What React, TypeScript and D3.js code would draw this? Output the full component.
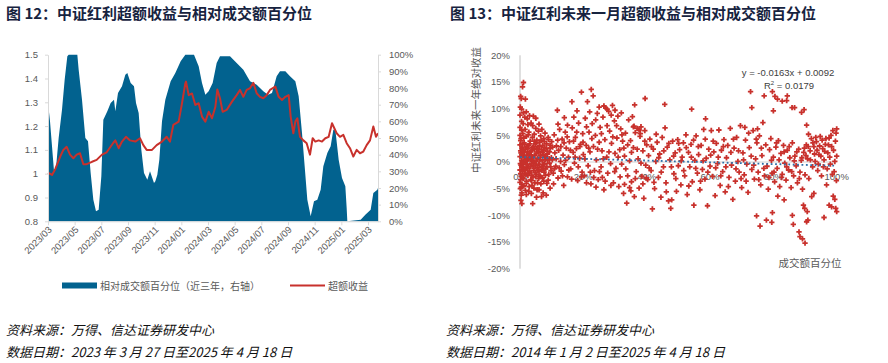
import React, { useRef, useEffect } from "react";
import * as d3 from "d3";

// left chart: trading-day index vs values
const monthLabels = ["2023/03", "2023/05", "2023/07", "2023/09", "2023/11", "2024/01", "2024/03", "2024/05", "2024/07", "2024/09", "2024/11", "2025/01", "2025/03"];
const leftTicks = ["1.5", "1.4", "1.3", "1.2", "1.1", "1", "0.9", "0.8"];
const rightTicks = ["100%", "90%", "80%", "70%", "60%", "50%", "40%", "30%", "20%", "10%", "0%"];

// 相对成交额百分位 (right axis, %)
const areaIdx = [0, 3, 6, 9, 12, 16, 21, 25, 29, 31, 44, 46, 51, 56, 60, 64, 68, 72, 76, 80, 83, 89, 94, 99, 101, 105, 111, 116, 119, 124, 129, 132, 136, 140, 144, 149, 153, 159, 161, 164, 167, 171, 176, 184, 191, 199, 206, 219, 226, 231, 236, 241, 247, 253, 258, 273, 283, 293, 303, 313, 323, 330, 336, 343, 348, 356, 363, 371, 376, 381, 385, 389, 394, 399, 404, 409, 413, 419, 424, 428, 431, 436, 441, 446, 448, 449, 469, 476, 484, 488, 494, 495];
const areaPct = [71, 60, 45, 30, 32, 50, 67, 85, 99, 100, 100, 91, 73, 50, 48, 29, 13, 6, 7, 27, 61, 66, 71, 73, 66, 77, 81, 88, 89, 83, 81, 71, 65, 43, 29, 25, 30, 23, 24, 28, 37, 60, 73, 84, 89, 96, 100, 100, 93, 83, 76, 78, 83, 95, 99, 99, 95, 91, 84, 82, 78, 76, 77, 87, 90, 90, 87, 84, 75, 53, 33, 13, 3, 12, 13, 19, 33, 41, 45, 55, 55, 37, 26, 21, 8, 0, 1, 4, 7, 17, 19, 20];

// 超额收益 (left axis)
const lineIdx = [0, 6, 11, 18, 23, 28, 33, 38, 43, 48, 53, 58, 66, 73, 81, 88, 98, 101, 106, 111, 117, 123, 131, 138, 143, 148, 156, 163, 171, 178, 183, 188, 196, 201, 206, 207, 211, 216, 221, 226, 231, 236, 241, 246, 251, 254, 258, 262, 268, 276, 283, 288, 293, 298, 303, 308, 313, 318, 323, 328, 333, 341, 346, 351, 356, 361, 364, 368, 371, 374, 378, 383, 388, 393, 397, 401, 406, 411, 416, 421, 426, 433, 438, 443, 448, 453, 458, 463, 468, 473, 478, 483, 488, 492, 495];
const lineVal = [1.004, 0.995, 1.02, 1.07, 1.10, 1.113, 1.08, 1.065, 1.08, 1.086, 1.04, 1.04, 1.05, 1.058, 1.08, 1.09, 1.13, 1.14, 1.107, 1.135, 1.155, 1.14, 1.135, 1.149, 1.12, 1.10, 1.10, 1.12, 1.135, 1.155, 1.135, 1.205, 1.219, 1.296, 1.38, 1.387, 1.33, 1.337, 1.289, 1.296, 1.24, 1.219, 1.26, 1.233, 1.28, 1.354, 1.317, 1.26, 1.268, 1.303, 1.33, 1.352, 1.323, 1.352, 1.359, 1.382, 1.338, 1.323, 1.317, 1.33, 1.352, 1.366, 1.323, 1.31, 1.323, 1.33, 1.24, 1.17, 1.219, 1.233, 1.155, 1.14, 1.128, 1.08, 1.149, 1.135, 1.14, 1.135, 1.149, 1.155, 1.212, 1.17, 1.155, 1.163, 1.128, 1.107, 1.072, 1.10, 1.086, 1.093, 1.12, 1.14, 1.198, 1.155, 1.17];

// right chart: [成交额百分位 %, 未来一年绝对收益 %]
const scatter: [number, number][] = [
  [0,5],[0,3.2],[0,1],[0,-1.5],[0,-3.8],[0,6.5],[0,8.8],[0.1,-5],[0.2,2.1],[0.3,-0.6],[0.3,4.4],[0.4,-2.7],[0.5,7.6],[0.5,0.3],[0.6,-4.2],[0.7,2.8],[0.8,-1.8],[0.9,5.3],[1,1.2],[1,-3.1],[1.1,9.2],[1.2,-0.4],[1.3,3.6],[1.4,-2.2],[1.5,0.8],[1.6,6.1],[1.7,-5.3],[1.8,2.4],[1.9,-1],[2,4.8],[2.1,-3.6],[2.2,0.2],[2.3,8.1],[2.4,1.9],[2.5,-2.5],[2.6,3.1],[2.7,-0.8],[2.8,5.6],[2.9,-4.6],[3,1.5],[0.2,12.3],[0.4,11.9],[1.7,11.8],[0.8,14.1],[1.1,14.9],[0.4,-6.2],[0.6,-7.8],[0.1,10.3],[0.3,-7.2],
  [0.1,-0.3],[0.2,-2.2],[0.2,4],[0.3,1.7],[0.4,-4.7],[0.5,6],[0.6,2.5],[0.7,-1],[0.8,3.4],[0.9,-2.9],[1,0],[1.2,4.5],[1.4,1.8],[1.6,-1.5],[1.8,0.1],[2,-4],[2.2,2.9],[2.4,-1.2],[2.6,5.1],[2.8,0.6],[3,-2.1],[3.3,1.9],[3.6,-3.5],[3.9,0.8],[4.2,-0.6],[4.5,2.3],[4.8,-2],[5.1,3.6],[5.5,-1.1],[6,-1.8],[6.5,1.3],[7,-0.9],[7.5,2.2],[8,0.5],[8.6,1.5],[9.3,-0.2],
  [0.5,-0.9],[0.7,1.5],[0.9,-0.1],[1.1,2.2],[1.3,-1.3],[1.5,3.3],[1.7,0.5],[1.9,-2.3],[2.1,1.3],[2.3,-0.4],[2.5,2.6],[2.7,0.9],[2.9,-1.7],[3.1,3.4],[3.3,-0.9],[3.5,1.1],[3.7,-2.5],[3.9,2.7],[4.1,0.3],[4.3,-1.6],[4.5,3.9],[4.7,1.3],[4.9,-2.8],[5.1,0.1],[5.3,2.5],[5.5,-3.9],[5.7,1.9],[5.9,-0.4],[6.1,3],[6.3,0.4],[6.5,-2.7],[6.7,4.1],[6.9,-1.5],[7.1,1.8],[7.3,-0.5],[7.5,-3.6],[7.7,3.8],[7.9,0.9],[8.1,-1.3],[8.3,2.6],[8.5,-4],[8.7,0.3],[8.9,4.6],[9.1,-2.3],[9.3,1.9],[9.5,3.1],[9.7,-0.9],[9.9,0.8],
  [0.2,-3.3],[0.6,-5.8],[1.2,-4.5],[2,-6.1],[2.8,-5.5],[3.6,-5.9],[4.4,-4.9],[5.2,-6.6],[6,-5.2],[6.8,-6.5],[1,7.2],[2,9.4],[3,8.7],[4,6.8],[5,8.2],[6,7.1],[2.5,7],[1.5,8.4],[0.5,9.9],
  [3.1,-1.9],[3.2,3.9],[3.3,0.5],[3.4,-3.3],[3.5,7.3],[3.6,2.2],[3.7,-0.2],[3.8,-4.4],[3.9,4.6],[4,1],[4,-7.8],[4.1,-2.8],[4.2,8.6],[4.3,2.9],[4.4,-1.2],[4.5,5.2],[4.6,0],[4.7,-3.9],[4.8,3.4],[4.9,-0.7],[5,6.3],[5.1,1.6],[5.2,-2.3],[5.3,4.1],[5.4,-5.2],[5.5,0.7],[5.6,2.6],[5.7,-1.5],[5.8,5.8],[5.9,-3.1],
  [6,1.9],[6.1,-0.5],[6.2,3.7],[6.3,-2.6],[6.4,0.9],[6.5,4.9],[6.6,-4.1],[6.7,2.3],[6.8,-1.1],[6.9,6.1],[7,0.2],[7.1,-3],[7.2,3.1],[7.3,-5.8],[7.4,1.4],[7.5,4.4],[7.6,-1.9],[7.7,2.7],[7.8,-0.3],[7.9,5.4],[8,-2.5],[8.1,1.1],[8.3,-6.2],[8.4,3.4],[8.5,-0.9],[8.7,2],[8.9,-3.4],[9,4.2],[9.2,0.6],[9.5,-4.9],[9.6,2.6],[9.8,-1.6],[10,3.8],
  [10.2,0.4],[10.5,-2.1],[10.8,5.1],[11,1.7],[11.3,-0.8],[11.5,3],[11.8,9.7],[12,-3],[12.2,2.2],[12.5,6.1],[12.8,0.1],[13,-1.7],[13.3,4.3],[13.6,1.3],[14,-0.5],[14.3,5.6],[14.6,2.6],[15,-2.8],[15.3,0.9],[15.6,3.8],[16,-1.3],[16.4,11.3],[16.5,6.4],[16.8,1.8],[17.2,-0.2],[17.5,4.6],[17.8,2.5],[18.2,-3.5],[18.5,7.3],[18.8,0.7],[19.1,3.3],[19.4,13.1],[19.6,-1.9],[19.8,5.3],[20,1.4],[10.6,-4.1],[13.8,-4.4],[17,8.4],[18,9.6],
  [10.3,2.8],[10.9,-1.3],[11.4,0.6],[11.9,4.1],[12.4,-1.1],[12.9,2.9],[13.4,-2.6],[13.9,3.6],[14.4,0.3],[14.9,4.7],[15.4,-1.5],[15.9,2.2],[16.3,-3.2],[16.9,3.9],[17.4,0.9],[17.9,5.6],[18.4,-0.9],[18.9,2.9],[19.4,-2.8],[19.9,3.7],
  [20.3,-2.6],[20.6,8.2],[20.9,3.1],[21.3,11.3],[21.5,-0.7],[21.8,5.6],[22.1,1.9],[22.5,13.6],[22.4,-4.1],[22.8,7.2],[23.1,12.4],[23.2,2.9],[23.5,-1.6],[23.8,5],[24.1,0.4],[24.4,9.1],[24.7,-3.3],[25,3.7],[25.3,6.5],[25.6,-0.9],[25.9,2.1],[26.2,8.4],[26.5,-5.2],[26.8,4.2],[27.1,10.1],[27.4,0.9],[27.7,-2.1],[28,9.5],[28.3,5.8],[28.6,-0.3],[28.9,3.5],[29.2,10.6],[29.5,-3.9],[29.8,7.7],[30,1.6],[27.5,9.9],[28.8,8.8],[26,-2.9],[24,-4.7],[21,-3.9],
  [20.5,0.6],[21,6.6],[21.7,2.6],[22.2,-1.9],[22.7,4.4],[23.3,-2.9],[23.9,7.9],[24.5,2.4],[25.1,-1.8],[25.7,5.3],[26.3,0.6],[26.9,-3.6],[27.5,6.8],[28.1,1.9],[28.7,-4.4],[29.3,4.7],[29.9,-1.8],
  [30.3,-1.2],[30.6,4.5],[30.9,8.6],[31.2,-4.6],[31.5,2.3],[31.8,6.2],[32.1,-0.4],[32.4,3.9],[32.7,-5.9],[33,1.1],[33.3,5.4],[33.7,-7.7],[34,-2.6],[34.3,7.9],[34.6,0.2],[34.9,4],[35.2,-3.7],[35.5,8.5],[35.8,2.7],[36.2,10.7],[36.1,-6.5],[36.4,5.5],[36.7,-1.8],[37,6.3],[37.3,0.6],[37.6,-4.9],[37.9,4.8],[38.2,6.6],[38.5,-2.7],[38.8,2.1],[39.1,-6.8],[39.5,11.9],[39.4,5.9],[39.7,-0.6],[40,3.2],[33,-4.2],[35,-5.4],
  [30.5,6.8],[31,0.9],[31.6,-2.8],[32.2,5.1],[32.8,2.6],[33.4,-1.3],[34,3.2],[34.6,-4.8],[35.2,1.8],[35.8,6.6],[36.4,-3.1],[37,2.4],[37.6,6],[38.2,-0.2],[38.8,-4.1],[39.4,3.9],[39.9,-3],
  [12,7.1],[14,8.3],[15,6.9],[22,9.4],[25,10.3],[26.5,10.5],[30,9.7],[32,9.2],[38,5.3],[36,6.7],
  [40.3,-3.3],[40.6,1.2],[41,4.3],[41.4,-1.6],[41.8,-8.8],[42.1,2.4],[42.5,-5],[42.9,0.1],[43.3,3.7],[43.7,-2.9],[44.1,1.5],[44.5,-6.6],[44.9,4.6],[45.3,-0.9],[45.7,10.8],[45.8,6.4],[46.1,-3.9],[46.5,2.8],[46.9,-7.3],[47.3,0.4],[47.6,-8.7],[47.9,-7.1],[48.2,3.9],[48.6,-2.2],[49,1.7],[49.4,-5.5],[49.8,4.2],[50,-0.7],
  [40.8,-1.1],[41.5,2.9],[42.3,-3.8],[43,5.2],[43.8,0.8],[44.6,-1.9],[45.4,2.1],[46.2,-5.6],[47,3.5],[47.8,-0.9],[48.5,1.1],[49.2,-3.1],
  [50.4,2.3],[50.8,-4.3],[51.2,0.9],[51.6,3.6],[52,-2.6],[52.4,5.1],[52.8,-6.1],[53.2,1.8],[53.6,-0.9],[54,3.3],[54.2,9.9],[54.4,-3.7],[54.9,-8.1],[55.2,0.3],[55.6,4.9],[56,-2.1],[56.4,1.4],[56.8,-5.2],[57.2,3.1],[57.6,-1.4],[58,6.1],[58.6,8.1],[58.4,-3.2],[58.8,0.7],[59.2,-8.2],[59.6,2.4],[60,-0.8],
  [50.1,3.5],[50.9,0.2],[51.7,-1.6],[52.5,2.7],[53.3,-4.5],[54.1,0.9],[54.8,4.1],[55.5,-1.2],[56.3,2.9],[57,-3.6],[57.8,0.2],[58.5,4.3],[59.3,-1.9],
  [60.4,5.9],[60.8,-2.7],[61.2,1.9],[61.6,-6.3],[62,3.5],[62.4,-0.3],[62.8,6],[63.2,-4.4],[63.6,2.2],[64,-1.8],[64.4,4.2],[64.8,-5.6],[65.2,0.8],[65.6,3.1],[66,-2.9],[66.4,6.3],[66.8,-0.6],[67.2,-7],[67.6,2.6],[68,-3.6],[68.4,4.6],[68.8,0.1],[69.2,-1.9],[69.6,6.8],[70,-4.8],
  [60.2,1.3],[61,3.9],[61.8,-1.1],[62.6,0.9],[63.4,-2.6],[64.2,2.9],[65,-0.9],[65.8,-4.6],[66.6,1.8],[67.4,4.3],[68.2,-1.3],[69,2.1],[69.8,-3.1],
  [70.4,1.7],[70.8,-2.4],[71.2,4.1],[71.6,-0.4],[72,-5.7],[72.4,2.7],[72.8,13.2],[73.2,10.2],[73.2,-1.4],[73.6,5.9],[74,-3.2],[74.4,0.6],[74.7,-10.1],[74.8,3.6],[75.2,-1.9],[75.8,-12],[75.6,4.9],[76,-4.3],[76.4,1.2],[76.7,7.4],[77.1,12.4],[77.2,-2.6],[77.8,-10.9],[77.6,3.2],[78,-0.8],[78.4,-5.1],[78.8,2.3],[79.2,4.4],[79.5,-11.3],[79.7,13.2],[79.7,-9.5],[79.6,-2.1],[80,9.6],[80,0.9],
  [70.6,0.4],[71.4,-3.6],[72.2,5.4],[73,1.1],[73.8,-0.6],[74.6,4.3],[75.4,-3.3],[76.2,2.6],[77,-1.2],[75,6.2],[71,6.5],[78.6,-2.9],[79.4,0.3],
  [80.5,12.3],[80.4,-3.7],[80.8,2.8],[81.3,11.8],[81.2,-1.2],[81.4,-6.4],[81.6,4],[82,-4.6],[82.4,1.6],[82.8,11.4],[82.8,-2.3],[83.2,3.1],[83.4,-7.1],[83.6,-0.2],[84,-3.4],[84.2,11.5],[84.4,12.4],[84.4,2.2],[84.8,-1.5],[85.2,0.8],[85.6,-4.8],[85.9,10.2],[86,-10],[86.3,-11.7],[86,3.6],[86.4,-2.6],[86.7,10.2],[86.8,1.1],[87.2,-0.7],[87.6,-3.9],[88,2.4],[88.1,-13.1],[88.4,-14],[88.4,-1.9],[88.9,9.3],[88.8,0.3],[89.2,-14.4],[89.2,-5.1],[89.5,-8.1],[89.6,1.8],[89.7,9.8],[89.9,-8.7],[90,-15.2],[90,-2.4],
  [80.2,-1.9],[81,3.6],[81.8,0.4],[82.6,-2.9],[83.4,1.9],[84.2,-0.9],[85,2.9],[85.8,-1.8],[86.6,0.2],[87.4,1.9],[88.2,-3.1],[89,0.8],[89.8,2.6],
  [90.5,6.9],[90.5,-11.2],[90.4,3.2],[90.7,-9.3],[90.9,-10.9],[90.8,0.6],[91.1,5.2],[91.2,-3.1],[91.6,2.1],[92,4.4],[92.1,-6.5],[92.4,-0.9],[92.8,-5.9],[92.8,2.9],[93.2,0.1],[93.6,3.8],[94,-1.6],[94.4,1.4],[94.8,4.8],[95.2,-2.6],[95.6,2.5],[96,-10.4],[96,0.4],[96.4,3.3],[96.8,-4.3],[97.2,1.7],[97.6,-8.1],[97.6,4.5],[98,-0.4],[98.4,-8.4],[98.4,2.9],[98.9,-6.4],[98.8,5.9],[99.2,-1.8],[99.4,-7],[99.6,3.9],[99.7,-8.7],[100,-9.3],[100,1.1],[100,6.2],[99.9,-3.5],
  [90.3,1.2],[91,2.9],[91.7,0.4],[92.5,3.6],[93,1.5],[93.4,4.6],[93.8,2.2],[94.2,-0.4],[94.6,3],[95,1.1],[95.4,4.1],[95.8,-0.9],[96.2,2],[96.6,4.4],[97,-1.3],[97.4,3.2],[97.8,0.9],[98.2,5],[98.6,-2.3],[99,2.2],[99.4,0.1],[99.8,5.4],
];
const trendCoef = [-0.0163, 0.0092]; // slope, intercept
const scatterYTicks = [0.2, 0.15, 0.1, 0.05, 0, -0.05, -0.1, -0.15, -0.2];
const scatterXTicks = [0, 0.2, 0.4, 0.6, 0.8, 1];

const FONT = "'Liberation Sans', Arial, 'Noto Sans CJK SC', sans-serif";
const CJK = "'Noto Sans CJK SC', sans-serif";
const BLUE = "#02628f";
const RED = "#c8312c";
const AXIS = "#d9d9d9";
const LABEL = "#595959";

export default function App() {
  const svgRef = useRef<SVGSVGElement>(null);

  useEffect(() => {
    const svg = d3.select(svgRef.current);
    svg.selectAll("*").remove();

    // titles
    svg.append("text").attr("x", 6).attr("y", 19).text("图 12：中证红利超额收益与相对成交额百分位")
      .attr("font-family", CJK).attr("font-weight", 700).attr("font-size", 15).attr("fill", "#17233f");
    svg.append("text").attr("x", 450).attr("y", 19).text("图 13：中证红利未来一月超额收益与相对成交额百分位")
      .attr("font-family", CJK).attr("font-weight", 700).attr("font-size", 15).attr("fill", "#17233f");

    // ---------- left chart ----------
    const x = d3.scaleLinear().domain([0, 495]).range([48, 378]);
    const yL = d3.scaleLinear().domain([0.8, 1.5]).range([221.3, 54.7]);
    const yR = d3.scaleLinear().domain([0, 100]).range([221.3, 54.7]);

    const area = d3.area<number>()
      .x((d, i) => x(areaIdx[i]))
      .y0(yR(0))
      .y1(d => yR(d));
    svg.append("path").attr("d", area(areaPct)).attr("fill", BLUE);

    const line = d3.line<number>()
      .x((d, i) => x(lineIdx[i]))
      .y(d => yL(d));
    svg.append("path").attr("d", line(lineVal)).attr("fill", "none")
      .attr("stroke", RED).attr("stroke-width", 2).attr("stroke-linejoin", "round");

    const styleAxis = (g: any) => {
      g.select(".domain").attr("stroke", AXIS);
      g.selectAll(".tick line").attr("stroke", AXIS);
      g.selectAll("text").attr("fill", LABEL).attr("font-family", FONT).attr("font-size", 9.5);
    };

    svg.append("g").attr("transform", "translate(48,0)")
      .call(d3.axisLeft(yL).tickValues(leftTicks.map(Number)).tickFormat((d, i) => leftTicks[i]).tickSize(3).tickSizeOuter(0).tickPadding(7))
      .call(styleAxis);
    svg.append("g").attr("transform", "translate(378,0)")
      .call(d3.axisRight(yR).tickValues(rightTicks.map(t => parseFloat(t))).tickFormat((d, i) => rightTicks[i]).tickSize(3).tickSizeOuter(0).tickPadding(8))
      .call(styleAxis);
    svg.append("g").attr("transform", "translate(0,221.3)")
      .call(d3.axisBottom(x).tickValues(monthLabels.map((d, i) => i * 40)).tickFormat((d, i) => monthLabels[i]).tickSize(4).tickSizeOuter(0))
      .call(styleAxis)
      .call(g => g.selectAll("text")
        .attr("text-anchor", "end").attr("x", 0).attr("y", 0).attr("dy", 0)
        .attr("transform", "translate(4,9) rotate(-45)"));

    // legend
    svg.append("rect").attr("x", 62).attr("y", 282.5).attr("width", 35).attr("height", 6).attr("fill", BLUE);
    svg.append("text").attr("x", 100).attr("y", 289.5).text("相对成交额百分位（近三年，右轴）")
      .attr("font-family", CJK).attr("font-size", 10).attr("fill", LABEL);
    svg.append("line").attr("x1", 290).attr("x2", 325).attr("y1", 285.5).attr("y2", 285.5)
      .attr("stroke", RED).attr("stroke-width", 2);
    svg.append("text").attr("x", 328).attr("y", 289.5).text("超额收益")
      .attr("font-family", CJK).attr("font-size", 10).attr("fill", LABEL);

    // ---------- right chart ----------
    const sx = d3.scaleLinear().domain([0, 1]).range([520, 836.7]);
    const sy = d3.scaleLinear().domain([-0.2, 0.2]).range([268.7, 55.3]);

    svg.append("line").attr("x1", sx(0)).attr("x2", sx(0)).attr("y1", sy(0.2)).attr("y2", sy(-0.2))
      .attr("stroke", "#bfbfbf");
    svg.append("line").attr("x1", sx(0)).attr("x2", sx(1)).attr("y1", sy(0)).attr("y2", sy(0))
      .attr("stroke", "#d0d0d0");

    svg.append("g").selectAll("text").data(scatterYTicks).join("text")
      .attr("x", 510).attr("y", d => sy(d)).attr("dy", "0.35em").attr("text-anchor", "end")
      .text(d => `${Math.round(d * 100)}%`)
      .attr("font-family", FONT).attr("font-size", 9.5).attr("fill", LABEL);

    svg.append("g").selectAll("text").data(scatterXTicks).join("text")
      .attr("x", d => sx(d)).attr("y", 179.5).attr("text-anchor", "middle")
      .text(d => `${Math.round(d * 100)}%`)
      .attr("font-family", FONT).attr("font-size", 9.5).attr("fill", LABEL);

    const cross = d3.symbol().type(d3.symbolCross).size(16)();
    svg.append("g").selectAll("path").data(scatter).join("path")
      .attr("d", cross)
      .attr("transform", d => `translate(${sx(d[0] / 100)},${sy(d[1] / 100)})`)
      .attr("fill", RED);

    svg.append("line")
      .attr("x1", sx(0)).attr("y1", sy(trendCoef[1]))
      .attr("x2", sx(1)).attr("y2", sy(trendCoef[0] + trendCoef[1]))
      .attr("stroke", "#2e6fa8").attr("stroke-width", 1.8).attr("stroke-dasharray", "1.8 2.6");

    svg.append("text").attr("x", 788).attr("y", 75.5).attr("text-anchor", "middle")
      .text(`y = ${trendCoef[0]}x + ${trendCoef[1]}`)
      .attr("font-family", FONT).attr("font-size", 9.5).attr("fill", "#404040");
    const r2 = svg.append("text").attr("x", 789).attr("y", 88.5).attr("text-anchor", "middle")
      .attr("font-family", FONT).attr("font-size", 9.5).attr("fill", "#404040");
    r2.append("tspan").text("R");
    r2.append("tspan").text("2").attr("font-size", 6).attr("dy", -4);
    r2.append("tspan").text(" = 0.0179").attr("dy", 4);

    svg.append("text").attr("x", 810).attr("y", 266.5).attr("text-anchor", "middle")
      .text("成交额百分位").attr("font-family", CJK).attr("font-size", 10.5).attr("fill", LABEL);

    svg.append("text").attr("transform", "translate(480,110) rotate(-90)").attr("text-anchor", "middle")
      .text("中证红利未来一年绝对收益").attr("font-family", CJK).attr("font-size", 10.5).attr("fill", LABEL);

    // footers
    const foot = [
      [6, 335, "资料来源：万得、信达证券研发中心"],
      [6, 357, "数据日期：2023 年 3 月 27 日至2025 年 4 月 18 日"],
      [446, 335, "资料来源：万得、信达证券研发中心"],
      [446, 357, "数据日期：2014 年 1 月 2 日至2025 年 4 月 18 日"],
    ] as const;
    foot.forEach(([fx, fy, t]) => {
      svg.append("text").attr("x", fx).attr("y", fy).text(t)
        .attr("font-family", CJK).attr("font-size", 13).attr("font-style", "italic").attr("fill", "#111");
    });
  }, []);

  return (
    <svg ref={svgRef} width={888} height={363} style={{ position: "absolute", left: 0, top: 0, background: "#fff" }} />
  );
}
